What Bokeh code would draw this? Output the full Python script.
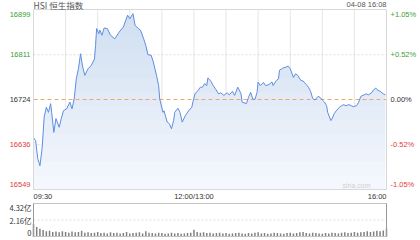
import numpy as np
from bokeh.plotting import figure
from bokeh.models import Range1d, ColumnDataSource
from bokeh.core.properties import value
from bokeh.embed import file_html
from bokeh.resources import INLINE

title_text = "HSI 恒生指数"
stamp_text = "04-08 16:08"
watermark = "sina.com"
prev_close = 16724
left_ticks = [16899, 16811, 16724, 16636, 16549]
left_labels = ["16899", "16811", "16724", "16636", "16549"]
right_labels = ["+1.05%", "+0.52%", "0.00%", "-0.52%", "-1.05%"]
time_ticks = [0, 150, 330]
time_labels = ["09:30", "12:00/13:00", "16:00"]
grid_minutes = [30, 60, 90, 120, 150, 180, 210, 240, 270, 300]
vol_ticks = [4.32, 2.16, 0]
vol_labels = ["4.32亿", "2.16亿", "0"]

# minutes since 09:30 on the trading-time axis (lunch break removed)
minutes = [0, 2, 4, 6, 8, 10, 12, 14, 16, 17, 19, 21, 24, 26, 28, 31, 34, 36, 38, 40,
           42, 44, 46, 48, 51, 54, 57, 58, 59, 61, 62, 64, 66, 69, 72, 76, 80, 84, 88, 90,
           93, 95, 98, 100, 103, 105, 107, 110, 112, 115, 117, 118, 121, 122, 125, 127, 129, 131, 132, 135,
           137, 139, 142, 145, 148, 149, 151, 154, 156, 158, 160, 162, 163, 166, 168, 170, 173, 175, 178, 181,
           183, 186, 188, 191, 194, 195, 199, 201, 203, 205, 207, 209, 210, 212, 215, 217, 220, 223, 224, 227,
           229, 230, 233, 236, 238, 240, 243, 245, 247, 250, 252, 255, 257, 259, 261, 263, 266, 268, 270, 272,
           274, 275, 278, 279, 281, 283, 286, 288, 290, 292, 295, 297, 299, 302, 304, 306, 309, 311, 313, 316,
           318, 320, 322, 324, 327, 329]
prices = [16650, 16644, 16609, 16595, 16628, 16690, 16709, 16699, 16716, 16699, 16660, 16687, 16670, 16687, 16702, 16706, 16719, 16706, 16725, 16764,
          16784, 16813, 16787, 16771, 16784, 16790, 16803, 16829, 16862, 16852, 16859, 16849, 16863, 16862, 16849, 16842, 16855, 16865, 16888, 16881,
          16891, 16868, 16862, 16859, 16842, 16829, 16811, 16810, 16797, 16771, 16751, 16725, 16699, 16702, 16680, 16677, 16667, 16683, 16699, 16707,
          16699, 16680, 16693, 16702, 16709, 16719, 16735, 16742, 16748, 16748, 16755, 16751, 16766, 16759, 16751, 16745, 16735, 16737, 16732, 16737,
          16733, 16740, 16732, 16748, 16735, 16719, 16716, 16728, 16738, 16725, 16724, 16738, 16758, 16751, 16757, 16751, 16753, 16758, 16751, 16761,
          16764, 16781, 16785, 16787, 16789, 16784, 16767, 16774, 16771, 16761, 16760, 16753, 16748, 16740, 16726, 16723, 16730, 16728, 16723, 16719,
          16712, 16699, 16683, 16686, 16696, 16702, 16709, 16712, 16714, 16712, 16714, 16712, 16710, 16712, 16719, 16730, 16733, 16735, 16733, 16737,
          16743, 16746, 16742, 16740, 16735, 16733]

vol_minutes = list(range(0, 330, 3)) + [330]
vol_values = [1.65, 1.25, 1.0, 0.85, 0.7, 0.75, 0.6, 0.65, 0.55, 0.7, 0.6, 0.5, 0.65, 0.55, 0.6, 0.75, 0.5, 0.55, 0.45, 0.5,
              0.6, 0.45, 0.5, 0.4, 0.55, 0.45, 0.5, 0.4, 0.45, 0.6, 0.4, 0.45, 0.5, 0.55, 0.4, 0.7, 0.5, 0.45, 0.4, 0.5,
              0.45, 0.35, 0.4, 0.5, 0.4, 0.45, 0.35, 0.4, 0.45, 0.5,
              0.9, 0.6, 0.5, 0.55, 0.45, 0.5, 0.4, 0.45, 0.5, 0.4, 0.45, 0.35, 0.4, 0.45, 0.5, 0.4, 0.35, 0.45, 0.4, 0.5,
              0.55, 0.4, 0.45, 0.35, 0.4, 0.5, 0.45, 0.4, 0.35, 0.45, 0.5, 0.4, 0.45, 0.55, 0.6, 0.45, 0.4, 0.5, 0.45, 0.4,
              0.35, 0.45, 0.4, 0.5, 0.45, 0.4, 0.5, 0.55, 0.45, 0.5, 0.6, 0.5, 0.55, 0.6, 0.7, 0.6, 0.65, 0.75, 0.7, 0.8,
              1.0]

GREEN = "#3a9e3a"
RED = "#e03c3c"
DARK = "#333333"
FONT = "Liberation Sans"
CJK = "Noto Sans CJK SC"

# ---- layout: map the panels onto the 420x240 canvas -------------------
W, H = 420, 240
fx0, fx1 = 33, 386          # plot area left/right (px)
py0, py1 = 9, 189           # price panel top/bottom (px from top)
vy0, vy1 = 203, 236         # volume panel top/bottom (px from top)
xmin, xmax = time_ticks[0], time_ticks[-1]
ptop, pbot = left_ticks[0], left_ticks[-1]
vtop = vol_ticks[0]

mpp = (xmax - xmin) / (fx1 - fx0)
x_range = Range1d(xmin - fx0 * mpp, xmax + (W - fx1) * mpp)
ppp = (ptop - pbot) / (py1 - py0)
y_range = Range1d(pbot - (H - py1) * ppp, ptop + py0 * ppp)
vpp = vtop / (vy1 - vy0)
vol_range = Range1d(0 - (H - vy1) * vpp, vtop + vy0 * vpp)

p = figure(width=W, height=H, x_range=x_range, y_range=y_range,
           x_axis_type=None, y_axis_type=None, output_backend="svg", toolbar_location=None,
           min_border=0, min_border_left=0, min_border_right=0, min_border_top=0, min_border_bottom=0)
p.extra_y_ranges = {"vol": vol_range}
p.outline_line_color = None
p.background_fill_color = "white"
p.border_fill_color = "white"
p.xgrid.visible = False if p.xgrid else None

# ---- price panel --------------------------------------------------------
p.segment(x0=grid_minutes, y0=[pbot] * len(grid_minutes), x1=grid_minutes, y1=[ptop] * len(grid_minutes),
          line_color="#e6e6e6", line_width=1)
p.segment(x0=[xmin, xmin], y0=[left_ticks[1], left_ticks[3]], x1=[xmax, xmax], y1=[left_ticks[1], left_ticks[3]],
          line_color="#dcdcdc", line_dash="2 2", line_width=1)

x = np.array(minutes, dtype=float)
y = np.array(prices, dtype=float)
p.varea(x=x, y1=y, y2=np.full_like(y, pbot), fill_color="#f4f7fd", fill_alpha=1)
for lev in np.linspace(pbot, ptop, 14)[1:]:
    p.varea(x=x, y1=y, y2=np.minimum(y, lev), fill_color="#6f9be6", fill_alpha=0.022)

p.segment(x0=[xmin], y0=[prev_close], x1=[xmax], y1=[prev_close],
          line_color="#f0a868", line_dash="4 3", line_width=1)
p.line(x, y, line_color="#5f8de0", line_width=1)
p.quad(left=[xmin], right=[xmax], bottom=[pbot], top=[ptop], fill_color=None,
       line_color="#d8d8d8", line_width=1)

lbl_colors = [GREEN, GREEN, DARK, RED, RED]
offs = [5, 0, 0, 0, -5]
src_l = ColumnDataSource(dict(x=[xmin] * 5, y=left_ticks, t=left_labels, c=lbl_colors, o=offs))
src_r = ColumnDataSource(dict(x=[xmax] * 5, y=left_ticks, t=right_labels, c=lbl_colors, o=offs))
p.text(x="x", y="y", text="t", text_color="c", y_offset="o", x_offset=-3, source=src_l,
       text_align="right", text_baseline="middle", text_font=value(FONT), text_font_size="7.5px")
p.text(x="x", y="y", text="t", text_color="c", y_offset="o", x_offset=4, source=src_r,
       text_align="left", text_baseline="middle", text_font=value(FONT), text_font_size="7.5px")

src_t = ColumnDataSource(dict(x=time_ticks, y=[pbot] * 3, t=time_labels, a=["left", "center", "right"]))
p.text(x="x", y="y", text="t", text_align="a", source=src_t, y_offset=7, text_baseline="middle",
       text_color=DARK, text_font=value(FONT), text_font_size="7.5px")

p.text(x=[xmin], y=[ptop], text=[title_text], y_offset=-5, text_align="left", text_baseline="middle",
       text_color="#555555", text_font=value(CJK), text_font_size="8.5px")
p.text(x=[xmax], y=[ptop], text=[stamp_text], y_offset=-5, text_align="right", text_baseline="middle",
       text_color="#555555", text_font=value(FONT), text_font_size="7.5px")
p.text(x=[xmax], y=[pbot], text=[watermark], x_offset=-16, y_offset=-4, text_align="right",
       text_baseline="middle", text_color="#d0d0d0", text_font=value(FONT), text_font_size="7px")

# ---- volume panel -------------------------------------------------------
p.segment(x0=[xmin], y0=[vol_ticks[1]], x1=[xmax], y1=[vol_ticks[1]], y_range_name="vol",
          line_color="#dcdcdc", line_dash="2 2", line_width=1)
p.vbar(x=vol_minutes, top=vol_values, bottom=0, width=1.4, y_range_name="vol",
       fill_color="#808080", line_color=None)
p.quad(left=[xmin], right=[xmax], bottom=[0], top=[vtop], y_range_name="vol", fill_color=None,
       line_color="#c4c4c4", line_width=1)
p.segment(x0=[xmin, xmax], y0=[0, 0], x1=[xmin, xmax], y1=[vtop, vtop], y_range_name="vol",
          line_color="#999999", line_width=1)
src_v = ColumnDataSource(dict(x=[xmin] * 3, y=vol_ticks, t=vol_labels, o=[4, 0, -4]))
p.text(x="x", y="y", text="t", y_offset="o", source=src_v, x_offset=-2, y_range_name="vol",
       text_align="right", text_baseline="middle", text_color=DARK,
       text_font=value(CJK), text_font_size="7.5px")

open("out.html", "w").write(file_html(p, INLINE))
